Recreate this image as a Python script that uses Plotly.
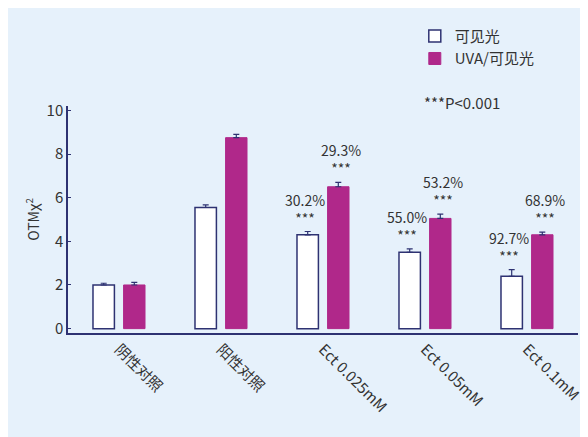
import plotly.graph_objects as go

groups = ["阴性对照", "阳性对照", "Ect 0.025mM", "Ect 0.05mM", "Ect 0.1mM"]
visible = [2.0, 5.55, 4.3, 3.5, 2.4]
visible_err = [0.08, 0.12, 0.15, 0.15, 0.3]
uva = [2.0, 8.75, 6.5, 5.05, 4.3]
uva_err = [0.12, 0.15, 0.2, 0.2, 0.12]
visible_pct = ["", "", "30.2%", "55.0%", "92.7%"]
uva_pct = ["", "", "29.3%", "53.2%", "68.9%"]

navy = "#2e3272"
magenta = "#b0288a"
font = "Noto Sans CJK SC"

fig = go.Figure()
fig.add_bar(x=groups, y=visible, name="可见光", marker=dict(color="white", line=dict(color=navy, width=1.5)),
            error_y=dict(type="data", array=visible_err, symmetric=False, arrayminus=[0]*5, color=navy, thickness=1.2, width=3))
fig.add_bar(x=groups, y=uva, name="UVA/可见光", marker=dict(color=magenta, line=dict(color=magenta, width=1)),
            error_y=dict(type="data", array=uva_err, symmetric=False, arrayminus=[0]*5, color=navy, thickness=1.2, width=3))

for i, g in enumerate(groups):
    if visible_pct[i]:
        fig.add_annotation(x=g, y=visible[i] + visible_err[i], text=visible_pct[i] + "<br>***", showarrow=False,
                           xshift=-18, yanchor="bottom", yshift=2, font=dict(size=14, color="#333"))
        fig.add_annotation(x=g, y=uva[i] + uva_err[i], text=uva_pct[i] + "<br>***", showarrow=False,
                           xshift=18, yanchor="bottom", yshift=2, font=dict(size=14, color="#333"))

fig.add_annotation(xref="paper", yref="paper", x=0.695, y=1.07, xanchor="left", showarrow=False,
                   text="***P<0.001", font=dict(size=15, color="#333"))

fig.update_layout(
    width=588, height=437,
    paper_bgcolor="#e6f1fb", plot_bgcolor="#e6f1fb",
    margin=dict(l=60, r=18, t=88, b=112),
    font=dict(family=font, color="#333", size=15),
    barmode="group", bargap=0.4, bargroupgap=0.3,
    legend=dict(x=0.68, y=1.38, xanchor="left", yanchor="top", bgcolor="rgba(0,0,0,0)",
                font=dict(size=15), tracegroupgap=2),
    showlegend=True,
)
fig.update_yaxes(range=[-0.2, 10.2], tickvals=[0, 2, 4, 6, 8, 10], showgrid=False, zeroline=False,
                 showline=True, linecolor=navy, linewidth=1.5, ticks="inside", tickcolor=navy, ticklen=3,
                 title=dict(text="OTMχ<sup>2</sup>", font=dict(size=14), standoff=4))
fig.update_xaxes(showline=True, linecolor=navy, linewidth=1.5, tickangle=45, ticks="", tickfont=dict(size=15))

fig.write_html("out.html")
